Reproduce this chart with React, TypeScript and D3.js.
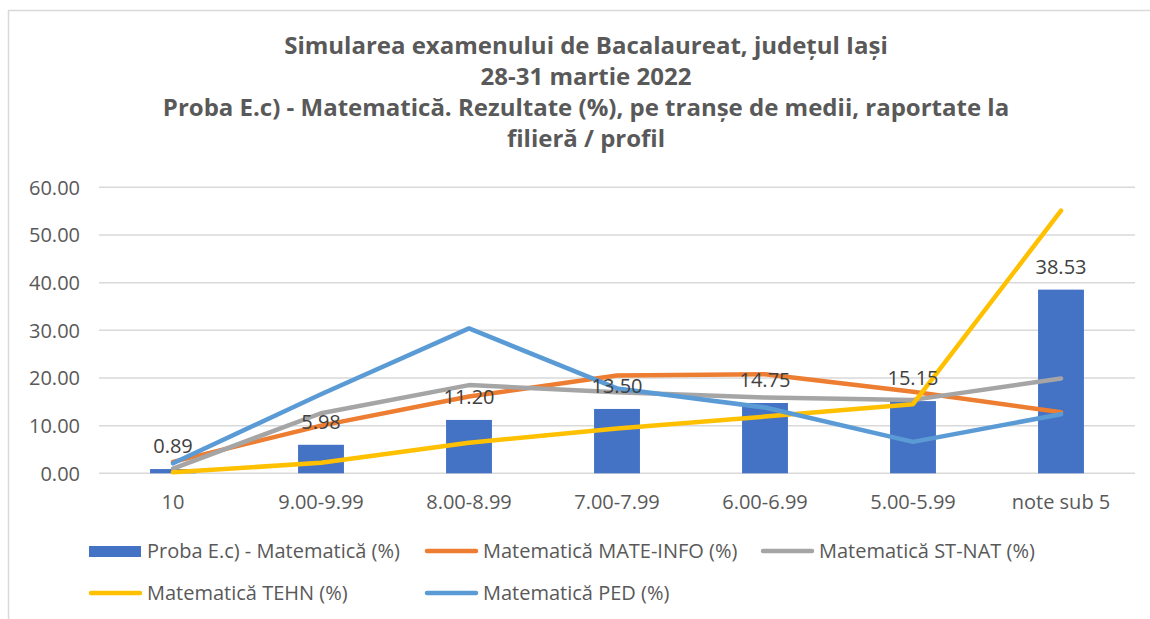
import React from "react";
import * as d3 from "d3";

const categories = ["10", "9.00-9.99", "8.00-8.99", "7.00-7.99", "6.00-6.99", "5.00-5.99", "note sub 5"];
const probaValues = [0.89, 5.98, 11.2, 13.5, 14.75, 15.15, 38.53];
const mateInfo = [2.4, 10.0, 16.1, 20.5, 20.8, 17.1, 12.8];
const stNat = [1.0, 12.6, 18.5, 17.0, 15.9, 15.4, 19.9];
const tehn = [0.2, 2.2, 6.4, 9.4, 11.9, 14.5, 55.1];
const ped = [2.1, 16.6, 30.4, 17.8, 13.8, 6.6, 12.4];
const yTicks = [0, 10, 20, 30, 40, 50, 60];
const titleLines = [
  "Simularea examenului de Bacalaureat, județul Iași",
  "28-31 martie 2022",
  "Proba E.c) - Matematică. Rezultate (%), pe tranșe de medii, raportate la",
  "filieră / profil",
];

const lineSeries = [
  { name: "Matematică MATE-INFO (%)", values: mateInfo, color: "#ED7D31" },
  { name: "Matematică ST-NAT (%)", values: stNat, color: "#A5A5A5" },
  { name: "Matematică TEHN (%)", values: tehn, color: "#FFC000" },
  { name: "Matematică PED (%)", values: ped, color: "#5B9BD5" },
];

const legendItems = [
  { name: "Proba E.c) - Matematică (%)", color: "#4472C4", type: "bar", x: 89, y: 551 },
  { name: "Matematică MATE-INFO (%)", color: "#ED7D31", type: "line", x: 425, y: 551 },
  { name: "Matematică ST-NAT (%)", color: "#A5A5A5", type: "line", x: 761, y: 551 },
  { name: "Matematică TEHN (%)", color: "#FFC000", type: "line", x: 89, y: 593 },
  { name: "Matematică PED (%)", color: "#5B9BD5", type: "line", x: 425, y: 593 },
];

const FONT = "'Open Sans', 'Noto Sans', sans-serif";
const TEXT = "#595959";

export default function App() {
  const W = 1150, H = 619;
  const left = 99, right = 1135, top = 187.3, bottom = 473.3;
  const x = d3.scaleBand<string>().domain(categories).range([left, right]);
  const y = d3.scaleLinear().domain([0, 60]).range([bottom, top]);
  const bw = x.bandwidth() * 0.31;
  const cx = (c: string) => (x(c) as number) + x.bandwidth() / 2;
  const line = d3
    .line<number>()
    .x((_, i) => cx(categories[i]))
    .y((v) => y(v));

  return (
    <div style={{ position: "fixed", left: 0, top: 0, width: W, height: H, background: "#fff" }}>
      <svg width={W} height={H} style={{ display: "block", fontFamily: FONT }}>
        <rect x={8.5} y={10.5} width={W} height={H} fill="#fff" stroke="#D9D9D9" strokeWidth={1.5} />
        {titleLines.map((t, i) => (
          <text
            key={i}
            x={586}
            y={54 + i * 31}
            textAnchor="middle"
            fontSize={24}
            fontWeight="bold"
            fill={TEXT}
          >
            {t}
          </text>
        ))}
        {yTicks.map((t) => (
          <g key={t}>
            <line x1={left} x2={right} y1={y(t)} y2={y(t)} stroke="#D9D9D9" strokeWidth={1.5} />
            <text x={80} y={y(t)} dy="0.36em" textAnchor="end" fontSize={20} fill={TEXT}>
              {t.toFixed(2)}
            </text>
          </g>
        ))}
        {categories.map((c, i) => (
          <g key={c}>
            <rect x={cx(c) - bw / 2} y={y(probaValues[i])} width={bw} height={bottom - y(probaValues[i])} fill="#4472C4" />
          </g>
        ))}
        {categories.map((c) => (
          <text key={c} x={cx(c)} y={502} dy="0.36em" textAnchor="middle" fontSize={20} fill={TEXT}>
            {c}
          </text>
        ))}
        {lineSeries.map((s) => (
          <path
            key={s.name}
            d={line(s.values) as string}
            fill="none"
            stroke={s.color}
            strokeWidth={4.5}
            strokeLinecap="round"
            strokeLinejoin="round"
          />
        ))}
        {categories.map((c, i) => (
          <text key={c} x={cx(c)} y={y(probaValues[i]) - 16} textAnchor="middle" fontSize={20} fill="#404040">
            {probaValues[i].toFixed(2)}
          </text>
        ))}
        {legendItems.map((l) => (
          <g key={l.name}>
            {l.type === "bar" ? (
              <rect x={l.x} y={l.y - 5} width={52} height={11} fill={l.color} />
            ) : (
              <line x1={l.x + 2} x2={l.x + 51} y1={l.y} y2={l.y} stroke={l.color} strokeWidth={4.5} strokeLinecap="round" />
            )}
            <text x={l.x + 58} y={l.y} dy="0.36em" fontSize={20} fill={TEXT}>
              {l.name}
            </text>
          </g>
        ))}
      </svg>
    </div>
  );
}
